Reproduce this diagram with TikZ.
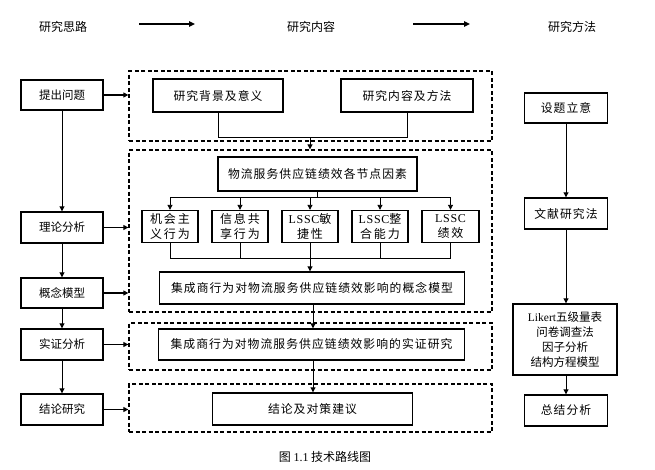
\documentclass[tikz,border=0pt]{standalone}
\usepackage{fontspec}
\setmainfont{Noto Sans CJK SC}
\newfontfamily\cjksp[LetterSpace=9]{Noto Sans CJK SC}
\newfontfamily\cjkwide[LetterSpace=15]{Noto Sans CJK SC}
\newfontfamily\tnr{Liberation Serif}
\newfontfamily\tnrsp[LetterSpace=6]{Liberation Serif}
\usetikzlibrary{arrows.meta}
\begin{document}
\begin{tikzpicture}[x=1pt,y=-1pt,
  box/.style={draw,line width=1.4pt,inner sep=0pt,align=center,font=\fontsize{11.5}{15}\selectfont},
  sbox/.style={box,font=\cjksp\fontsize{11.8}{15}\selectfont},
  wbox/.style={box,font=\cjkwide\fontsize{12}{15}\selectfont},
  dbox/.style={draw,line width=1.3pt,dash pattern=on 4pt off 2.5pt,inner sep=0pt},
  hdr/.style={inner sep=0pt,font=\fontsize{12}{14}\selectfont},
  conn/.style={line width=0.9pt},
  arr/.style={conn,-{Triangle[length=5pt,width=5pt]}},
  larr/.style={line width=1.5pt,-{Triangle[length=5pt,width=5pt]}},
  harr/.style={line width=1.8pt,-{Triangle[length=6pt,width=5.5pt]}}]
\useasboundingbox (0,0) rectangle (655,469);

% headers
\node[hdr] (h1) at (63,27) {研究思路};
\node[hdr] (h2) at (311,27) {研究内容};
\node[hdr] (h3) at (572,27) {研究方法};
\coordinate (a1s) at (139,24);
\coordinate (a1e) at (195,24);
\coordinate (a2s) at (413,24);
\coordinate (a2e) at (470,24);
\draw[harr] (a1s) -- (a1e);
\draw[harr] (a2s) -- (a2e);

% dashed boxes
\node[dbox,minimum width=363,minimum height=70] (D1) at (310.5,106) {};
\node[dbox,minimum width=363,minimum height=162] (D2) at (310.5,231) {};
\node[dbox,minimum width=363,minimum height=47] (D3) at (310.5,346.5) {};
\node[dbox,minimum width=363,minimum height=48] (D4) at (310.5,408) {};

% left column
\node[box,minimum width=82,minimum height=30] (L1) at (62,95) {提出问题};
\node[box,minimum width=82,minimum height=31] (L2) at (62,227.5) {理论分析};
\node[box,minimum width=82,minimum height=30] (L3) at (62,293) {概念模型};
\node[box,minimum width=82,minimum height=31] (L4) at (62,344.5) {实证分析};
\node[box,minimum width=82,minimum height=31] (L5) at (62,409.5) {结论研究};
\draw[arr] (L1) -- (L2);
\draw[arr] (L2) -- (L3);
\draw[arr] (L3) -- (L4);
\draw[arr] (L4) -- (L5);
\draw[larr] (L1.east) -- (L1.east -| D1.west);
\draw[larr] (L2.east) -- (L2.east -| D2.west);
\draw[larr] (L3.east) -- (L3.east -| D2.west);
\draw[larr] (L4.east) -- (L4.east -| D3.west);
\draw[larr] (L5.east) -- (L5.east -| D4.west);

% box 1 content
\node[sbox,minimum width=130,minimum height=33] (A) at (218,95.5) {研究背景及意义};
\node[sbox,minimum width=132,minimum height=33] (B) at (407,95.5) {研究内容及方法};
\coordinate (j1) at (310,137);
\draw[conn] (A.south) -- (A.south |- j1) -- (B.south |- j1) -- (B.south);
\draw[arr] (j1) -- (j1 |- D2.north);

% box 2 content
\node[sbox,minimum width=199,minimum height=34] (C) at (317.5,174) {物流服务供应链绩效各节点因素};
\node[wbox,minimum width=56,minimum height=32] (E1) at (170,226.5) {机会主\\义行为};
\node[wbox,minimum width=56,minimum height=32] (E2) at (240,226.5) {信息共\\享行为};
\node[wbox,minimum width=56,minimum height=32] (E3) at (310,226.5) {{\tnrsp LSSC}敏\\捷性};
\node[wbox,minimum width=56,minimum height=32] (E4) at (380,226.5) {{\tnrsp LSSC}整\\合能力};
\node[wbox,minimum width=57,minimum height=32] (E5) at (450.5,226.5) {{\tnrsp LSSC}\\绩效};
\coordinate (br) at (310,197);
\draw[conn] (C.south) -- (C.south |- br);
\draw[conn] (E1.north |- br) -- (E5.north |- br);
\foreach \e in {E1,E2,E3,E4,E5}{\draw[arr] (\e.north |- br) -- (\e.north);}
\node[sbox,minimum width=305,minimum height=32] (F) at (312,288) {集成商行为对物流服务供应链绩效影响的概念模型};
\coordinate (jn) at (310,258);
\draw[conn] (E1.south) -- (E1.south |- jn) -- (E5.south |- jn) -- (E5.south);
\draw[conn] (E2.south) -- (E2.south |- jn);
\draw[conn] (E4.south) -- (E4.south |- jn);
\draw[arr] (E3.south) -- (E3.south |- F.north);

% box 3, 4 content
\node[sbox,minimum width=306,minimum height=31] (G) at (311.5,344.5) {集成商行为对物流服务供应链绩效影响的实证研究};
\node[sbox,minimum width=200,minimum height=32] (H) at (312.5,409) {结论及对策建议};
\coordinate (fg) at (313,0);
\draw[arr] (F.south -| fg) -- (G.north -| fg);
\draw[arr] (G.south -| fg) -- (H.north -| fg);

% right column
\node[sbox,minimum width=83,minimum height=30] (R1) at (566,108) {设题立意};
\node[sbox,minimum width=83,minimum height=31] (R2) at (566,213.5) {文献研究法};
\node[box,minimum width=104,minimum height=71] (R3) at (565,339.5) {{\tnr Likert}五级量表\\问卷调查法\\因子分析\\结构方程模型};
\node[sbox,minimum width=83,minimum height=31] (R4) at (566,410.5) {总结分析};
\draw[arr] (R1) -- (R2);
\draw[arr] (R2.south) -- (R2.south |- R3.north);
\draw[arr] (R3.south -| R4.north) -- (R4.north);

% caption
\node[hdr,font=\fontsize{12}{14}\selectfont] (cap) at (325,457) {图 {\tnr 1.1} 技术路线图};
\end{tikzpicture}
\end{document}
